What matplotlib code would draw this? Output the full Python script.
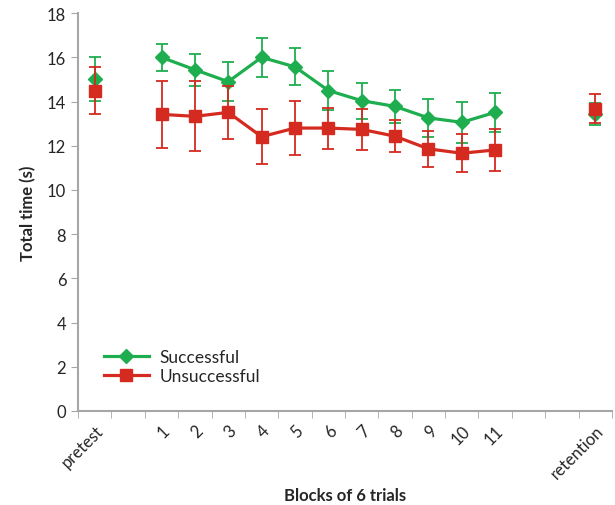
import numpy as np
import matplotlib
matplotlib.use("Agg")
import matplotlib.pyplot as plt
from matplotlib.lines import Line2D

plt.rcParams['font.family'] = ['Lato', 'DejaVu Sans']

categories = ["pretest", "", "1", "2", "3", "4", "5", "6", "7", "8", "9", "10", "11", "", "", "retention"]

succ_pre = 15.02
succ_pre_err = 1.0
unsucc_pre = 14.5
unsucc_pre_err = 1.08

succ_blocks = [16.0, 15.44, 14.9, 16.0, 15.57, 14.5, 14.04, 13.78, 13.26, 13.06, 13.51]
succ_blocks_err = [0.61, 0.72, 0.88, 0.88, 0.84, 0.87, 0.82, 0.73, 0.85, 0.92, 0.88]
unsucc_blocks = [13.42, 13.33, 13.51, 12.41, 12.8, 12.8, 12.74, 12.43, 11.86, 11.66, 11.81]
unsucc_blocks_err = [1.52, 1.58, 1.2, 1.25, 1.22, 0.93, 0.92, 0.72, 0.82, 0.86, 0.95]

succ_ret = 13.45
succ_ret_err = 0.5
unsucc_ret = 13.67
unsucc_ret_err = 0.66

green = "#1fae4f"
red = "#d42a1f"
gray = "#a6a6a6"
txt = "#262626"

fig = plt.figure(figsize=(6.15, 5.06), dpi=100)
ax = fig.add_axes([0.127, 0.186, 0.868, 0.786])

xpos = np.arange(len(categories))
block_x = xpos[2:13]
pre_x = xpos[0]
ret_x = xpos[15]

ekw = dict(elinewidth=1.3, capsize=4, capthick=1.3)

# Successful
ax.errorbar(block_x, succ_blocks, yerr=succ_blocks_err, color=green, lw=2.3,
            marker="D", ms=7.5, mfc=green, mec=green, ecolor=green, zorder=3, **ekw)
ax.errorbar([pre_x], [succ_pre], yerr=[succ_pre_err], color=green, lw=0,
            marker="D", ms=7.5, ecolor=green, zorder=3, **ekw)
ax.errorbar([ret_x], [succ_ret], yerr=[succ_ret_err], color=green, lw=0,
            marker="D", ms=7.5, ecolor=green, zorder=3, **ekw)

# Unsuccessful
ax.errorbar(block_x, unsucc_blocks, yerr=unsucc_blocks_err, color=red, lw=2.3,
            marker="s", ms=8, mfc=red, mec=red, ecolor=red, zorder=4, **ekw)
ax.errorbar([pre_x], [unsucc_pre], yerr=[unsucc_pre_err], color=red, lw=0,
            marker="s", ms=8, ecolor=red, zorder=4, **ekw)
ax.errorbar([ret_x], [unsucc_ret], yerr=[unsucc_ret_err], color=red, lw=0,
            marker="s", ms=8, ecolor=red, zorder=4, **ekw)

ax.set_xlim(-0.5, len(categories) - 0.5)
ax.set_ylim(0, 18)
ax.set_yticks(np.arange(0, 19, 2))
ax.tick_params(axis='y', labelsize=12, color=gray, length=5, direction='out', labelcolor=txt)

ax.set_xticks(xpos)
ax.set_xticklabels(categories, rotation=45, ha='right', rotation_mode='anchor', fontsize=12, color=txt)
ax.tick_params(axis='x', which='major', length=0, pad=8)
ax.set_xticks(np.arange(-0.5, len(categories), 1.0), minor=True)
ax.tick_params(axis='x', which='minor', length=5, color=gray, direction='out')

for s in ["top", "right"]:
    ax.spines[s].set_visible(False)
for s in ["left", "bottom"]:
    ax.spines[s].set_color(gray)
    ax.spines[s].set_linewidth(1.5)

ax.set_ylabel("Total time (s)", fontsize=12, fontweight='bold', labelpad=8, color=txt)
ax.set_xlabel("Blocks of 6 trials", fontsize=12, fontweight='bold', labelpad=4, color=txt)

handles = [Line2D([], [], color=green, lw=2.3, marker="D", ms=7.5),
           Line2D([], [], color=red, lw=2.3, marker="s", ms=8)]
ax.legend(handles, ["Successful", "Unsuccessful"], loc='lower left', bbox_to_anchor=(0.035, 0.05),
          frameon=False, fontsize=12.5, handlelength=2.6, labelspacing=0.15, borderaxespad=0,
          handletextpad=0.6, labelcolor=txt)

fig.savefig("out.png", dpi=100)
